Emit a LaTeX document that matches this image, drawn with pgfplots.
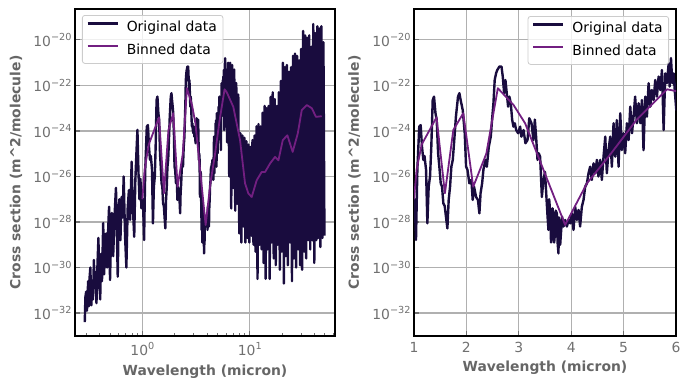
\documentclass[border=0pt]{standalone}
\usepackage{fontspec}
\setmainfont{DejaVu Sans}
\usepackage{pgfplots}
\usepackage{pgfplotstable}
\pgfplotsset{compat=1.18}
\definecolor{origc}{HTML}{190C3E}
\definecolor{binc}{HTML}{721F81}
\definecolor{tickc}{HTML}{707070}
\definecolor{labc}{HTML}{666666}
\definecolor{gridc}{HTML}{B0B0B0}
\definecolor{legc}{HTML}{CCCCCC}
\newcommand\sps[1]{\raisebox{0.42em}{\fontsize{9.7bp}{10bp}\selectfont #1}}

\pgfplotstableread{
x e
0.291 -32.4
0.295 -31.3
0.300 -31.06
0.305 -31.9
0.313 -30.6
0.318 -31.7
0.322 -30.5
0.328 -30.0
0.335 -31.66
0.340 -30.8
0.347 -31.4
0.354 -29.67
0.360 -30.9
0.367 -30.2
0.374 -31.57
0.382 -29.9
0.390 -28.7
0.396 -30.4
0.405 -31.4
0.413 -29.4
0.421 -30.6
0.432 -28.05
0.440 -30.3
0.450 -29.2
0.460 -28.5
0.470 -30.0
0.480 -28.4
0.490 -27.33
0.500 -30.55
0.510 -28.8
0.520 -27.6
0.535 -29.5
0.550 -27.8
0.568 -26.5
0.580 -28.6
0.590 -30.4
0.600 -28.2
0.610 -27.0
0.625 -28.8
0.640 -26.9
0.655 -27.8
0.670 -26.0
0.690 -28.6
0.710 -30.0
0.730 -27.4
0.750 -26.6
0.770 -27.9
0.795 -25.35
0.810 -27.0
0.840 -28.65
0.860 -26.2
0.880 -25.0
0.900 -23.95
0.920 -25.8
0.940 -27.0
0.960 -26.1
0.980 -27.4
1.000 -27.1
1.013 -27.0
1.038 -28.79
1.064 -25.7
1.100 -23.81
1.127 -23.74
1.153 -24.7
1.178 -25.27
1.200 -25.1
1.230 -25.7
1.255 -28.06
1.280 -26.45
1.306 -26.0
1.330 -24.7
1.357 -22.64
1.382 -22.49
1.410 -23.22
1.433 -23.5
1.460 -24.98
1.484 -25.57
1.510 -26.3
1.535 -26.45
1.560 -27.18
1.586 -27.3
1.610 -27.77
1.637 -28.28
1.662 -27.03
1.688 -26.45
1.713 -25.57
1.740 -25.27
1.764 -24.54
1.800 -23.37
1.840 -22.49
1.866 -22.34
1.890 -22.64
1.930 -23.08
1.968 -24.1
1.994 -25.57
2.020 -25.7
2.057 -26.3
2.095 -26.15
2.120 -27.03
2.146 -26.45
2.185 -26.9
2.220 -27.03
2.248 -27.62
2.270 -26.74
2.300 -26.3
2.325 -25.7
2.363 -25.27
2.390 -25.57
2.427 -24.7
2.465 -24.25
2.490 -23.5
2.516 -22.78
2.540 -21.76
2.567 -21.46
2.590 -21.32
2.630 -21.17
2.670 -21.17
2.694 -21.61
2.720 -22.34
2.745 -21.76
2.770 -22.34
2.796 -22.93
2.820 -22.49
2.847 -22.78
2.873 -23.5
2.898 -23.81
2.924 -23.66
2.950 -23.96
2.987 -24.1
3.025 -23.81
3.050 -24.25
3.090 -23.96
3.127 -24.54
3.166 -24.4
3.200 -23.44
3.242 -23.66
3.280 -24.4
3.306 -23.5
3.330 -24.25
3.357 -25.27
3.380 -24.98
3.407 -25.13
3.440 -26.9
3.470 -26.15
3.500 -25.8
3.530 -27.03
3.550 -27.8
3.566 -28.35
3.580 -27.0
3.600 -27.62
3.615 -28.9
3.630 -28.64
3.645 -27.4
3.660 -27.91
3.675 -28.9
3.690 -28.5
3.705 -27.5
3.725 -27.62
3.740 -28.9
3.757 -29.38
3.767 -27.8
3.777 -28.2
3.790 -29.0
3.800 -28.64
3.827 -27.77
3.853 -28.2
3.885 -27.91
3.917 -28.2
3.950 -27.91
3.980 -28.06
4.010 -27.62
4.044 -28.35
4.076 -27.33
4.108 -27.91
4.140 -27.47
4.170 -28.2
4.203 -27.33
4.235 -27.03
4.267 -26.45
4.300 -26.3
4.330 -25.86
4.362 -25.57
4.394 -26.15
4.426 -25.42
4.458 -25.86
4.490 -25.27
4.520 -26.0
4.554 -25.27
4.585 -26.15
4.617 -25.13
4.650 -24.25
4.680 -25.86
4.713 -24.84
4.745 -24.25
4.776 -25.57
4.808 -23.66
4.840 -25.13
4.870 -23.52
4.904 -25.57
4.936 -23.22
4.967 -24.84
5.000 -24.1
5.030 -24.98
5.063 -23.66
5.095 -24.4
5.127 -22.93
5.160 -24.1
5.190 -23.37
5.220 -22.49
5.254 -23.66
5.286 -22.78
5.318 -23.66
5.350 -22.64
5.380 -24.84
5.413 -22.49
5.445 -23.37
5.477 -21.9
5.510 -22.93
5.540 -22.2
5.573 -22.64
5.604 -21.76
5.636 -22.49
5.668 -21.61
5.700 -22.2
5.732 -21.32
5.764 -23.96
5.795 -21.47
5.827 -21.9
5.860 -21.03
5.878 -22.05
5.904 -20.8
5.930 -21.9
5.955 -21.47
5.980 -22.34
6.006 -23.08
6.03 -21.3
6.16 -24.5
6.30 -21.0
6.44 -26.0
6.58 -21.0
6.72 -27.4
6.87 -21.1
7.02 -26.5
7.17 -21.3
7.33 -27.5
7.49 -21.9
7.65 -27.2
7.82 -22.4
7.99 -28.5
8.17 -24.1
8.35 -28.9
8.53 -24.2
8.72 -28.2
8.91 -24.3
9.10 -28.9
9.30 -24.45
9.51 -28.7
9.72 -24.6
9.93 -28.9
10.15 -24.7
10.37 -28.6
10.60 -24.4
10.83 -29.0
11.07 -24.2
11.31 -29.3
11.56 -23.8
11.81 -30.5
12.07 -23.7
12.34 -29.0
12.61 -23.8
12.89 -29.2
13.17 -23.2
13.46 -29.8
13.76 -22.9
14.06 -30.5
14.37 -23.0
14.68 -29.2
15.00 -22.9
15.33 -30.5
15.67 -22.5
16.01 -28.9
16.36 -22.3
16.72 -29.6
17.09 -22.6
17.47 -29.9
17.85 -22.9
18.24 -29.0
18.64 -22.3
19.05 -30.1
19.47 -21.8
19.90 -29.3
20.34 -21.0
20.78 -30.7
21.24 -21.2
21.71 -29.5
22.18 -21.1
22.67 -29.9
23.17 -21.4
23.68 -28.9
24.20 -21.2
24.73 -30.6
25.27 -20.7
25.83 -29.6
26.40 -20.6
26.98 -30.0
27.57 -20.7
28.18 -29.2
28.80 -20.9
29.43 -29.9
30.08 -20.4
30.74 -30.1
31.41 -19.6
32.10 -29.3
32.81 -19.8
33.53 -29.6
34.27 -19.9
35.02 -28.8
35.79 -19.8
36.58 -29.2
37.38 -20.3
38.20 -28.8
39.04 -19.3
39.90 -29.8
40.78 -19.7
41.67 -28.8
42.59 -19.4
43.53 -28.7
44.48 -19.5
45.46 -29.1
46.46 -19.4
47.48 -28.7
48.52 -20.1
49.59 -28.6
}\origdata

\pgfplotstableread{
x e
1.000 -27.0
1.05 -25.7
1.146 -24.6
1.43 -23.4
1.59 -26.74
1.75 -23.96
1.94 -23.22
2.13 -26.45
2.38 -25.0
2.60 -22.12
2.90 -22.86
3.12 -23.66
3.885 -28.13
4.30 -26.3
4.74 -25.05
5.25 -23.5
5.83 -22.17
6.11 -22.3
7.03 -22.94
8.12 -24.4
9.04 -26.3
9.71 -26.75
10.43 -26.9
11.6 -26.17
12.93 -25.8
13.9 -25.8
15.45 -25.43
17.2 -25.14
18.5 -25.29
20.3 -24.4
22.4 -24.19
25.1 -24.92
28.0 -24.11
30.5 -23.08
34.0 -22.86
37.8 -23.0
41.4 -23.38
46.8 -23.35
}\bindata

\pgfplotsset{
  every axis/.append style={
    scale only axis, height=327bp,
    ymin=9.77e-34, ymax=2.29e-19,
    ytick={1e-32,1e-30,1e-28,1e-26,1e-24,1e-22,1e-20},
    yticklabels={10\sps{−32},10\sps{−30},10\sps{−28},10\sps{−26},10\sps{−24},10\sps{−22},10\sps{−20}},
    yminorticks=false,
    tick pos=left, tick align=inside,
    major tick length=4.9bp, minor tick length=2.8bp,
    every tick/.style={draw=tickc, line width=1.1bp},
    every minor tick/.style={draw=tickc, line width=0.8bp},
    grid=major, major grid style={draw=gridc, line width=1.1bp},
    axis line style={black, line width=1.1bp},
    tick label style={font=\fontsize{13.9bp}{16bp}\selectfont, text=tickc},
    every axis x label/.style={at={(axis description cs:0.5,-0.11)}, anchor=center, font=\fontsize{13.9bp}{16bp}\selectfont\bfseries, text=labc},
    every axis y label/.style={at={(axis description cs:-0.227,0.5)}, anchor=center, rotate=90, font=\fontsize{13.9bp}{16bp}\selectfont\bfseries, text=labc},
    legend cell align=left,
    legend image code/.code={\draw[#1] (0bp,4.8bp) -- (30bp,4.8bp);},
  },
}

\begin{document}
\begin{tikzpicture}
\begin{axis}[at={(75bp,53bp)}, anchor=south west, width=260bp,
  ymode=log,
  xmode=log, xmin=0.236, xmax=62.2,
  xtick={1,10}, xticklabels={10\sps{0},10\sps{1}},
  minor xtick={0.3,0.4,0.5,0.6,0.7,0.8,0.9,2,3,4,5,6,7,8,9,20,30,40,50,60},
  xticklabel style={yshift=-3bp},
  xlabel={Wavelength (micron)},
  ylabel={Cross section (m\textasciicircum2/molecule)},
  legend style={at={(0,1)}, anchor=north west, xshift=7bp, yshift=-6bp,
      draw=legc, line width=0.8bp, rounded corners=2.5bp, fill=white, fill opacity=0.8, text opacity=1, draw opacity=1,
      font=\fontsize{13.9bp}{16bp}\selectfont, inner xsep=4bp, inner ysep=4bp, row sep=5bp,
      nodes={inner sep=2bp, text height=10.5bp, text depth=3bp},
      /tikz/every odd column/.append style={column sep=6bp}}]
\addplot[color=origc, line width=2.4bp, line join=round, no markers] table[x=x, y expr=10^(\thisrow{e})] {\origdata};
\addlegendentry{Original data}
\addplot[color=binc, line width=1.8bp, line join=round, no markers] table[x=x, y expr=10^(\thisrow{e})] {\bindata};
\addlegendentry{Binned data}
\end{axis}
\begin{axis}[at={(414bp,53bp)}, anchor=south west, width=262bp,
  ymode=log,
  xmin=1, xmax=6, xtick={1,2,3,4,5,6}, xticklabels={1,2,3,4,5,6},
  xticklabel style={yshift=-2.5bp},
  xlabel={Wavelength (micron)},
  ylabel={Cross section (m\textasciicircum2/molecule)},
  x label style={at={(axis description cs:0.5,-0.096)}},
  legend style={at={(1,1)}, anchor=north east, xshift=-7bp, yshift=-7bp,
      draw=legc, line width=0.8bp, rounded corners=2.5bp, fill=white, fill opacity=0.8, text opacity=1, draw opacity=1,
      font=\fontsize{13.9bp}{16bp}\selectfont, inner xsep=4bp, inner ysep=4bp, row sep=5bp,
      nodes={inner sep=2bp, text height=10.5bp, text depth=3bp},
      /tikz/every odd column/.append style={column sep=6bp}}]
\addplot[color=origc, line width=2.4bp, line join=round, no markers] table[x=x, y expr=10^(\thisrow{e})] {\origdata};
\addlegendentry{Original data}
\addplot[color=binc, line width=1.8bp, line join=round, no markers] table[x=x, y expr=10^(\thisrow{e})] {\bindata};
\addlegendentry{Binned data}
\end{axis}
\pgfresetboundingbox
\path[use as bounding box] (0,0) rectangle (690bp,389bp);
\end{tikzpicture}
\end{document}
